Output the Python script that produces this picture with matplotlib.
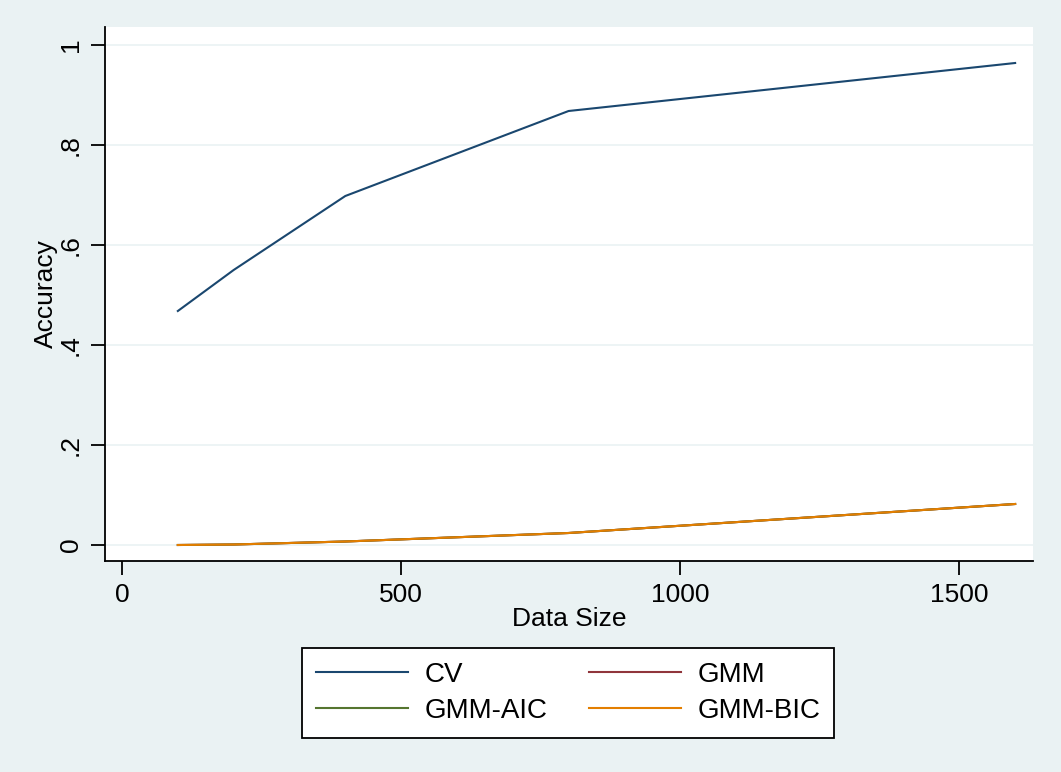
import matplotlib
matplotlib.use("Agg")
import matplotlib.pyplot as plt

plt.rcParams['font.family'] = ['Liberation Sans', 'DejaVu Sans']

# data
data_size = [100, 200, 400, 800, 1600]
acc_cv = [0.468, 0.550, 0.698, 0.868, 0.964]
acc_gmm = [0.0, 0.001, 0.007, 0.024, 0.082]
acc_gmm_aic = [0.0, 0.001, 0.007, 0.024, 0.082]
acc_gmm_bic = [0.0, 0.001, 0.007, 0.024, 0.082]

y_ticks = [0, 0.2, 0.4, 0.6, 0.8, 1.0]
y_ticklabels = ['0', '.2', '.4', '.6', '.8', '1']
x_ticks = [0, 500, 1000, 1500]

BG = '#eaf2f3'
FS = 19

fig = plt.figure(figsize=(10.61, 7.72), dpi=100, facecolor=BG)
ax = fig.add_axes([105 / 1061, 1 - 561 / 772, (1033 - 105) / 1061, (561 - 27) / 772])
ax.set_facecolor('white')

# stata s2color style lines
l_cv, = ax.plot(data_size, acc_cv, color='#1a476f', lw=1.5, label='CV')
l_gmm, = ax.plot(data_size, acc_gmm, color='#90353b', lw=1.5, label='GMM')
l_aic, = ax.plot(data_size, acc_gmm_aic, color='#55752f', lw=1.5, label='GMM-AIC')
l_bic, = ax.plot(data_size, acc_gmm_bic, color='#e37e00', lw=1.5, label='GMM-BIC')

ax.set_xlim(-30.5, 1632)
ax.set_ylim(-0.032, 1.036)
ax.set_yticks(y_ticks)
ax.set_yticklabels(y_ticklabels, rotation=90, va='center')
ax.set_xticks(x_ticks)
ax.grid(axis='y', color=BG, lw=1.2)
ax.set_axisbelow(True)

for s in ['top', 'right']:
    ax.spines[s].set_visible(False)
for s in ['left', 'bottom']:
    ax.spines[s].set_linewidth(1.3)
ax.tick_params(length=10, width=1.3, labelsize=FS, pad=6)

ax.set_xlabel('Data Size', fontsize=FS, labelpad=0)
ax.set_ylabel('Accuracy', fontsize=FS, labelpad=0.5)

# column-major fill -> rows: CV, GMM / GMM-AIC, GMM-BIC
handles = [l_cv, l_aic, l_gmm, l_bic]
leg = fig.legend(handles, [h.get_label() for h in handles],
                 loc='upper center', bbox_to_anchor=(568 / 1061, 1 - 648 / 772),
                 borderaxespad=0, ncol=2, fontsize=20, handlelength=3.3,
                 handletextpad=0.6, columnspacing=1.5, labelspacing=0.36,
                 borderpad=0.5, fancybox=False, frameon=True,
                 edgecolor='black', framealpha=1)
leg.get_frame().set_linewidth(1.3)

fig.savefig('out.png', dpi=100, facecolor=BG)
